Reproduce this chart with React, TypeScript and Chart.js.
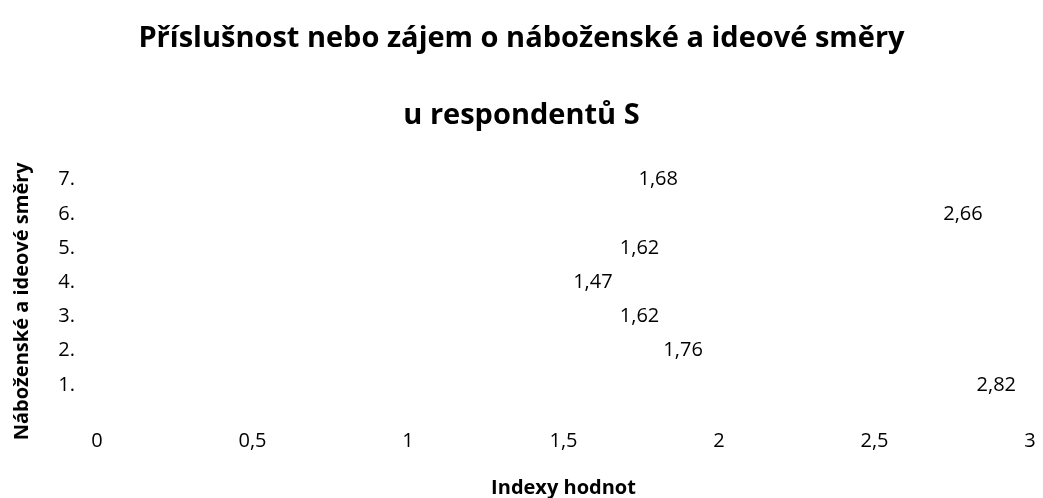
import React, { useEffect, useRef } from "react";
import { Chart, registerables } from "chart.js";

Chart.register(...registerables);

const categories = ["7.", "6.", "5.", "4.", "3.", "2.", "1."];
const values = [1.68, 2.66, 1.62, 1.47, 1.62, 1.76, 2.82];
const titleLines = ["Příslušnost nebo zájem o náboženské a ideové směry", "u respondentů S"];
const xTitle = "Indexy hodnot";
const yTitle = "Náboženské a ideové směry";

const FONT = "'Open Sans', 'Noto Sans', sans-serif";
const fmt = (v: number) => String(v).replace(".", ",");

const labelPlugin = {
  id: "valueLabels",
  afterDatasetsDraw(chart: any) {
    const { ctx, chartArea } = chart;
    const meta = chart.getDatasetMeta(0);
    const xs = chart.scales.x;
    ctx.save();
    ctx.font = `20px ${FONT}`;
    ctx.fillStyle = "#000";
    ctx.textAlign = "left";
    ctx.textBaseline = "middle";
    meta.data.forEach((el: any, i: number) => {
      const v = values[i];
      const txt = fmt(v);
      const w = ctx.measureText(txt).width;
      let x = xs.getPixelForValue(v) + 19;
      const limit = chartArea.right - 14;
      if (x + w > limit) x = limit - w;
      ctx.fillText(txt, x, el.y);
    });
    ctx.restore();
  },
};

const yTitlePlugin = {
  id: "yTitle",
  afterDraw(chart: any) {
    const { ctx, chartArea } = chart;
    const cy = (chartArea.top + chartArea.bottom) / 2 + 19;
    ctx.save();
    ctx.translate(22, cy);
    ctx.rotate(-Math.PI / 2);
    ctx.font = `bold 20px ${FONT}`;
    ctx.fillStyle = "#000";
    ctx.textAlign = "center";
    ctx.textBaseline = "middle";
    ctx.fillText(yTitle, 0, 0);
    ctx.restore();
  },
};

export default function App() {
  const ref = useRef<HTMLCanvasElement>(null);
  useEffect(() => {
    document.body.style.margin = "0";
    const chart = new Chart(ref.current!, {
      type: "bar",
      data: {
        labels: categories,
        datasets: [
          {
            data: values,
            backgroundColor: "rgba(0,0,0,0)",
            borderWidth: 0,
          },
        ],
      },
      plugins: [labelPlugin, yTitlePlugin],
      options: {
        indexAxis: "y",
        animation: false,
        responsive: false,
        layout: { autoPadding: false, padding: 0 },
        plugins: {
          legend: { display: false },
          tooltip: { enabled: false },
          title: {
            display: true,
            text: titleLines[0],
            color: "#000",
            font: { family: FONT, size: 29, weight: "bold" },
            padding: { top: 21, bottom: 21 },
          },
          subtitle: {
            display: true,
            text: titleLines[1],
            color: "#000",
            font: { family: FONT, size: 29, weight: "bold" },
            padding: { top: 22, bottom: 29 },
          },
        },
        scales: {
          x: {
            type: "linear",
            min: 0,
            max: 3,
            grid: { display: false, drawTicks: false },
            border: { display: false },
            afterFit: (s: any) => {
              s.height = 96;
              s.paddingLeft = 0;
              s.paddingRight = 13;
            },
            ticks: {
              stepSize: 0.5,
              color: "#000",
              padding: 27,
              font: { family: FONT, size: 20 },
              callback: (v: any) => fmt(Number(v)),
            },
            title: {
              display: true,
              text: xTitle,
              color: "#000",
              font: { family: FONT, size: 20, weight: "bold", lineHeight: 1 },
              padding: { top: 25, bottom: 0 },
            },
          },
          y: {
            grid: { display: false, drawTicks: false },
            border: { display: false },
            afterFit: (s: any) => {
              s.width = 97;
              s.paddingTop = 0;
              s.paddingBottom = 0;
            },
            ticks: {
              color: "#000",
              padding: 22,
              font: { family: FONT, size: 20 },
            },
          },
        },
      },
    });
    return () => chart.destroy();
  }, []);
  return <canvas ref={ref} width={1043} height={498} style={{ display: "block" }} />;
}
